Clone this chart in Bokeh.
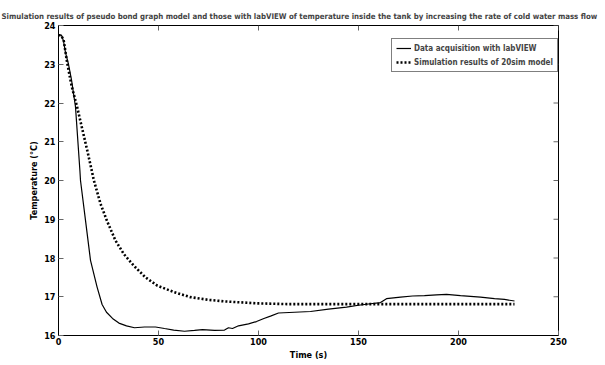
from bokeh.plotting import figure
from bokeh.models import Range1d, FixedTicker, Legend, LegendItem
from bokeh.embed import file_html
from bokeh.resources import INLINE

# ---- data ----
time_meas = [0, 1.5, 2.5, 3.5, 5, 6.5, 8.5, 10.7, 11, 13.5, 16, 19.3, 21.8, 24, 27,
             30.2, 34, 38, 43, 48.5, 53, 57.6, 63, 68, 72, 78, 83, 85, 87, 90, 95, 99,
             102.7, 106, 110, 118, 126, 135, 144, 150, 156, 161, 164, 171, 177,
             183, 189, 194, 201, 206, 211, 218, 223, 228]
temp_meas = [23.75, 23.75, 23.6, 23.3, 23.0, 22.6, 21.9, 20.26, 20.0, 18.97, 17.94,
             17.25, 16.8, 16.6, 16.44, 16.32, 16.25, 16.2, 16.22, 16.22, 16.18, 16.14,
             16.11, 16.13, 16.15, 16.13, 16.14, 16.2, 16.18, 16.25, 16.3, 16.36, 16.44,
             16.5, 16.58, 16.6, 16.62, 16.68, 16.73, 16.78, 16.82, 16.85, 16.95, 16.99,
             17.02, 17.03, 17.05, 17.06, 17.03, 17.01, 16.99, 16.95, 16.93, 16.89]

time_sim = [0, 1, 2.5, 4.3, 6.5, 9.3, 12, 14.5, 16, 17.7, 21, 24.3, 28.5, 32.7, 37.7,
            43.5, 49.3, 57.7, 66, 75, 83, 99, 115, 140, 170, 200, 228]
temp_sim = [23.75, 23.75, 23.65, 23.05, 22.45, 21.9, 21.3, 20.75, 20.4, 20.0, 19.4,
            18.95, 18.45, 18.1, 17.8, 17.5, 17.29, 17.12, 16.99, 16.92, 16.88, 16.83,
            16.81, 16.81, 16.81, 16.81, 16.81]

x_ticks = [0, 50, 100, 150, 200, 250]
y_ticks = [16, 17, 18, 19, 20, 21, 22, 23, 24]

title_text = ("Simulation results of pseudo bond graph model and those with labVIEW "
              "of temperature inside the tank by increasing the rate of cold water mass flow")
series_labels = ["Data acquisition with labVIEW", "Simulation results of 20sim model"]

FONT = "'Liberation Sans Narrow', 'DejaVu Sans Condensed', 'Liberation Sans', sans-serif"
X0, X1, Y0, Y1 = 0, 250, 16, 24

W, H = 605, 365
ML, MR, MT, MB = 58, 47, 25, 30
p = figure(width=W, height=H, x_range=Range1d(X0, X1), y_range=Range1d(Y0, Y1),
           output_backend="svg", toolbar_location=None,
           min_border_left=ML, min_border_right=MR, min_border_top=MT, min_border_bottom=MB)
p.background_fill_color = "white"
p.border_fill_color = "white"
p.outline_line_color = "black"
p.outline_line_width = 1
p.xgrid.grid_line_color = None
p.ygrid.grid_line_color = None

p.title.text = title_text
p.title.text_font = FONT
p.title.text_font_size = "7.8px"
p.title.text_font_style = "bold"
p.title.align = "left"
p.title.offset = -57
p.title.standoff = 9

xa = p.below[0]
xa.ticker = FixedTicker(ticks=x_ticks)
ya = p.left[0]
ya.ticker = FixedTicker(ticks=y_ticks)
for ax in (xa, ya):
    ax.major_tick_in = 5
    ax.major_tick_out = 0
    ax.major_tick_line_color = "#666666"
    ax.minor_tick_line_color = None
    ax.axis_line_color = "black"
    ax.major_label_text_font = FONT
    ax.major_label_text_font_style = "bold"
    ax.major_label_text_font_size = "9px"
    ax.major_label_text_color = "black"
    ax.axis_label_text_font = FONT
    ax.axis_label_text_font_style = "bold"
    ax.axis_label_text_font_size = "9px"
    ax.axis_label_text_color = "black"
xa.axis_label = "Time (s)"
xa.major_label_standoff = 2
xa.axis_label_standoff = 2
ya.axis_label = "Temperature (°C)"
ya.major_label_standoff = 3
ya.axis_label_standoff = 2

# inside ticks on the top and right edges of the box (5 px long)
frame_w, frame_h = W - ML - MR, H - MT - MB
dx = 5 * (X1 - X0) / frame_w
dy = 5 * (Y1 - Y0) / frame_h
p.segment(x0=x_ticks, y0=[Y1] * len(x_ticks), x1=x_ticks, y1=[Y1 - dy] * len(x_ticks),
          line_color="#666666", line_width=1)
p.segment(x0=[X1] * len(y_ticks), y0=y_ticks, x1=[X1 - dx] * len(y_ticks), y1=y_ticks,
          line_color="#666666", line_width=1)

r1 = p.line(time_meas, temp_meas, line_color="black", line_width=1.2)
r2 = p.line(time_sim, temp_sim, line_color="black", line_width=2.6, line_dash="2 2")

legend = Legend(items=[LegendItem(label=series_labels[0], renderers=[r1]),
                       LegendItem(label=series_labels[1], renderers=[r2])],
                location=(333, 263), border_line_color="black", border_line_width=1,
                label_text_font=FONT, label_text_font_style="bold",
                label_text_font_size="8px", glyph_width=15, glyph_height=10,
                label_height=10, spacing=4, padding=4, margin=0, label_standoff=3,
                background_fill_color="white", background_fill_alpha=1)
p.add_layout(legend)

open("out.html", "w").write(file_html(p, INLINE))
